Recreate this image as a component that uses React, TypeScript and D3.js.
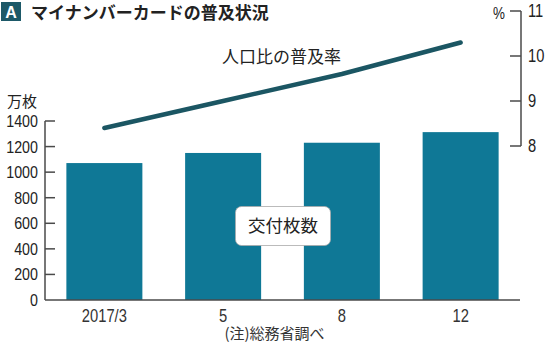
import React from "react";
import * as d3 from "d3";

const categories = ["2017/3", "5", "8", "12"];
const cardsIssued = [1071, 1150, 1230, 1313];
const penetrationRate = [8.4, 9.0, 9.6, 10.3];
const leftTicks = [0, 200, 400, 600, 800, 1000, 1200, 1400];
const rightTicks = [8, 9, 10, 11];

const NUM_FONT = "'Liberation Sans', Arial, sans-serif";
const JP_FONT = "'Noto Sans CJK JP', sans-serif";
const AXIS = "#4a4a4a";
const BAR = "#0f7896";
const LINE = "#1b5663";

function NText({ x, y, anchor, size, sx = 0.84, fill = "#222", children }: any) {
  return (
    <g transform={`translate(${x},${y}) scale(${sx},1)`}>
      <text x={0} y={0} textAnchor={anchor} fontFamily={NUM_FONT} fontSize={size} fill={fill}>{children}</text>
    </g>
  );
}

export default function App() {
  const W = 550, H = 355;
  const x = d3.scaleBand<string>().domain(categories).range([45, 520]).paddingInner(0.36).paddingOuter(0.18);
  const yL = d3.scaleLinear().domain([0, 1400]).range([300, 121]);
  const yR = d3.scaleLinear().domain([8, 11]).range([146, 11]);
  const line = d3.line<number>()
    .x((_, i) => (x(categories[i]) as number) + x.bandwidth() / 2)
    .y((d) => yR(d));

  return (
    <svg width={W} height={H} style={{ position: "absolute", left: 0, top: 0, background: "#fff" }}>
      {/* title */}
      <rect x={1} y={2} width={20} height={19} fill="#1d5968" />
      <text x={11} y={17.5} textAnchor="middle" fill="#fff" fontFamily="'Liberation Sans', sans-serif" fontWeight="bold" fontSize={16}>A</text>
      <text x={31} y={19} fontFamily={JP_FONT} fontWeight="bold" fontSize={17} fill="#222">マイナンバーカードの普及状況</text>

      {/* bars */}
      {cardsIssued.map((v, i) => (
        <rect key={i} x={x(categories[i])} y={yL(v)} width={x.bandwidth()} height={yL(0) - yL(v)} fill={BAR} />
      ))}

      {/* left axis */}
      <line x1={45} x2={45} y1={yL(1400)} y2={yL(0)} stroke={AXIS} strokeWidth={1.5} />
      {leftTicks.map((t) => (
        <g key={t}>
          {t > 0 && <line x1={45} x2={55} y1={yL(t)} y2={yL(t)} stroke={AXIS} strokeWidth={1.5} />}
          <NText x={38} y={yL(t) + 6} anchor="end" size={17}>{t}</NText>
        </g>
      ))}
      <text x={7} y={107} fontFamily={JP_FONT} fontSize={15} fill="#222">万枚</text>

      {/* bottom axis */}
      <line x1={45} x2={520} y1={300} y2={300} stroke={AXIS} strokeWidth={1.5} />
      {categories.map((c) => (
        <NText key={c} x={(x(c) as number) + x.bandwidth() / 2} y={322} anchor="middle" size={18} sx={0.82} fill="#333">{c}</NText>
      ))}
      <text x={274.5} y={339} textAnchor="middle" fontFamily={JP_FONT} fontSize={15} fill="#333">(注)総務省調べ</text>

      {/* right axis */}
      <line x1={521} x2={521} y1={yR(11)} y2={yR(8)} stroke={AXIS} strokeWidth={1.5} />
      {rightTicks.map((t) => (
        <g key={t}>
          <line x1={510} x2={521} y1={yR(t)} y2={yR(t)} stroke={AXIS} strokeWidth={1.5} />
          <NText x={528} y={yR(t) + 6} anchor="start" size={17.5}>{t}</NText>
        </g>
      ))}
      <NText x={505} y={18.5} anchor="end" size={16}>%</NText>

      {/* line */}
      <path d={line(penetrationRate) || ""} fill="none" stroke={LINE} strokeWidth={4.5} strokeLinecap="round" strokeLinejoin="round" />
      <text x={222} y={63} fontFamily={JP_FONT} fontSize={17} fill="#222">人口比の普及率</text>

      {/* bar label */}
      <rect x={235.5} y={206.5} width={95} height={39} rx={6} fill="#fff" stroke="#aaa" strokeWidth={0.8} />
      <text x={283} y={232} textAnchor="middle" fontFamily={JP_FONT} fontSize={17.5} fill="#222">交付枚数</text>
    </svg>
  );
}
